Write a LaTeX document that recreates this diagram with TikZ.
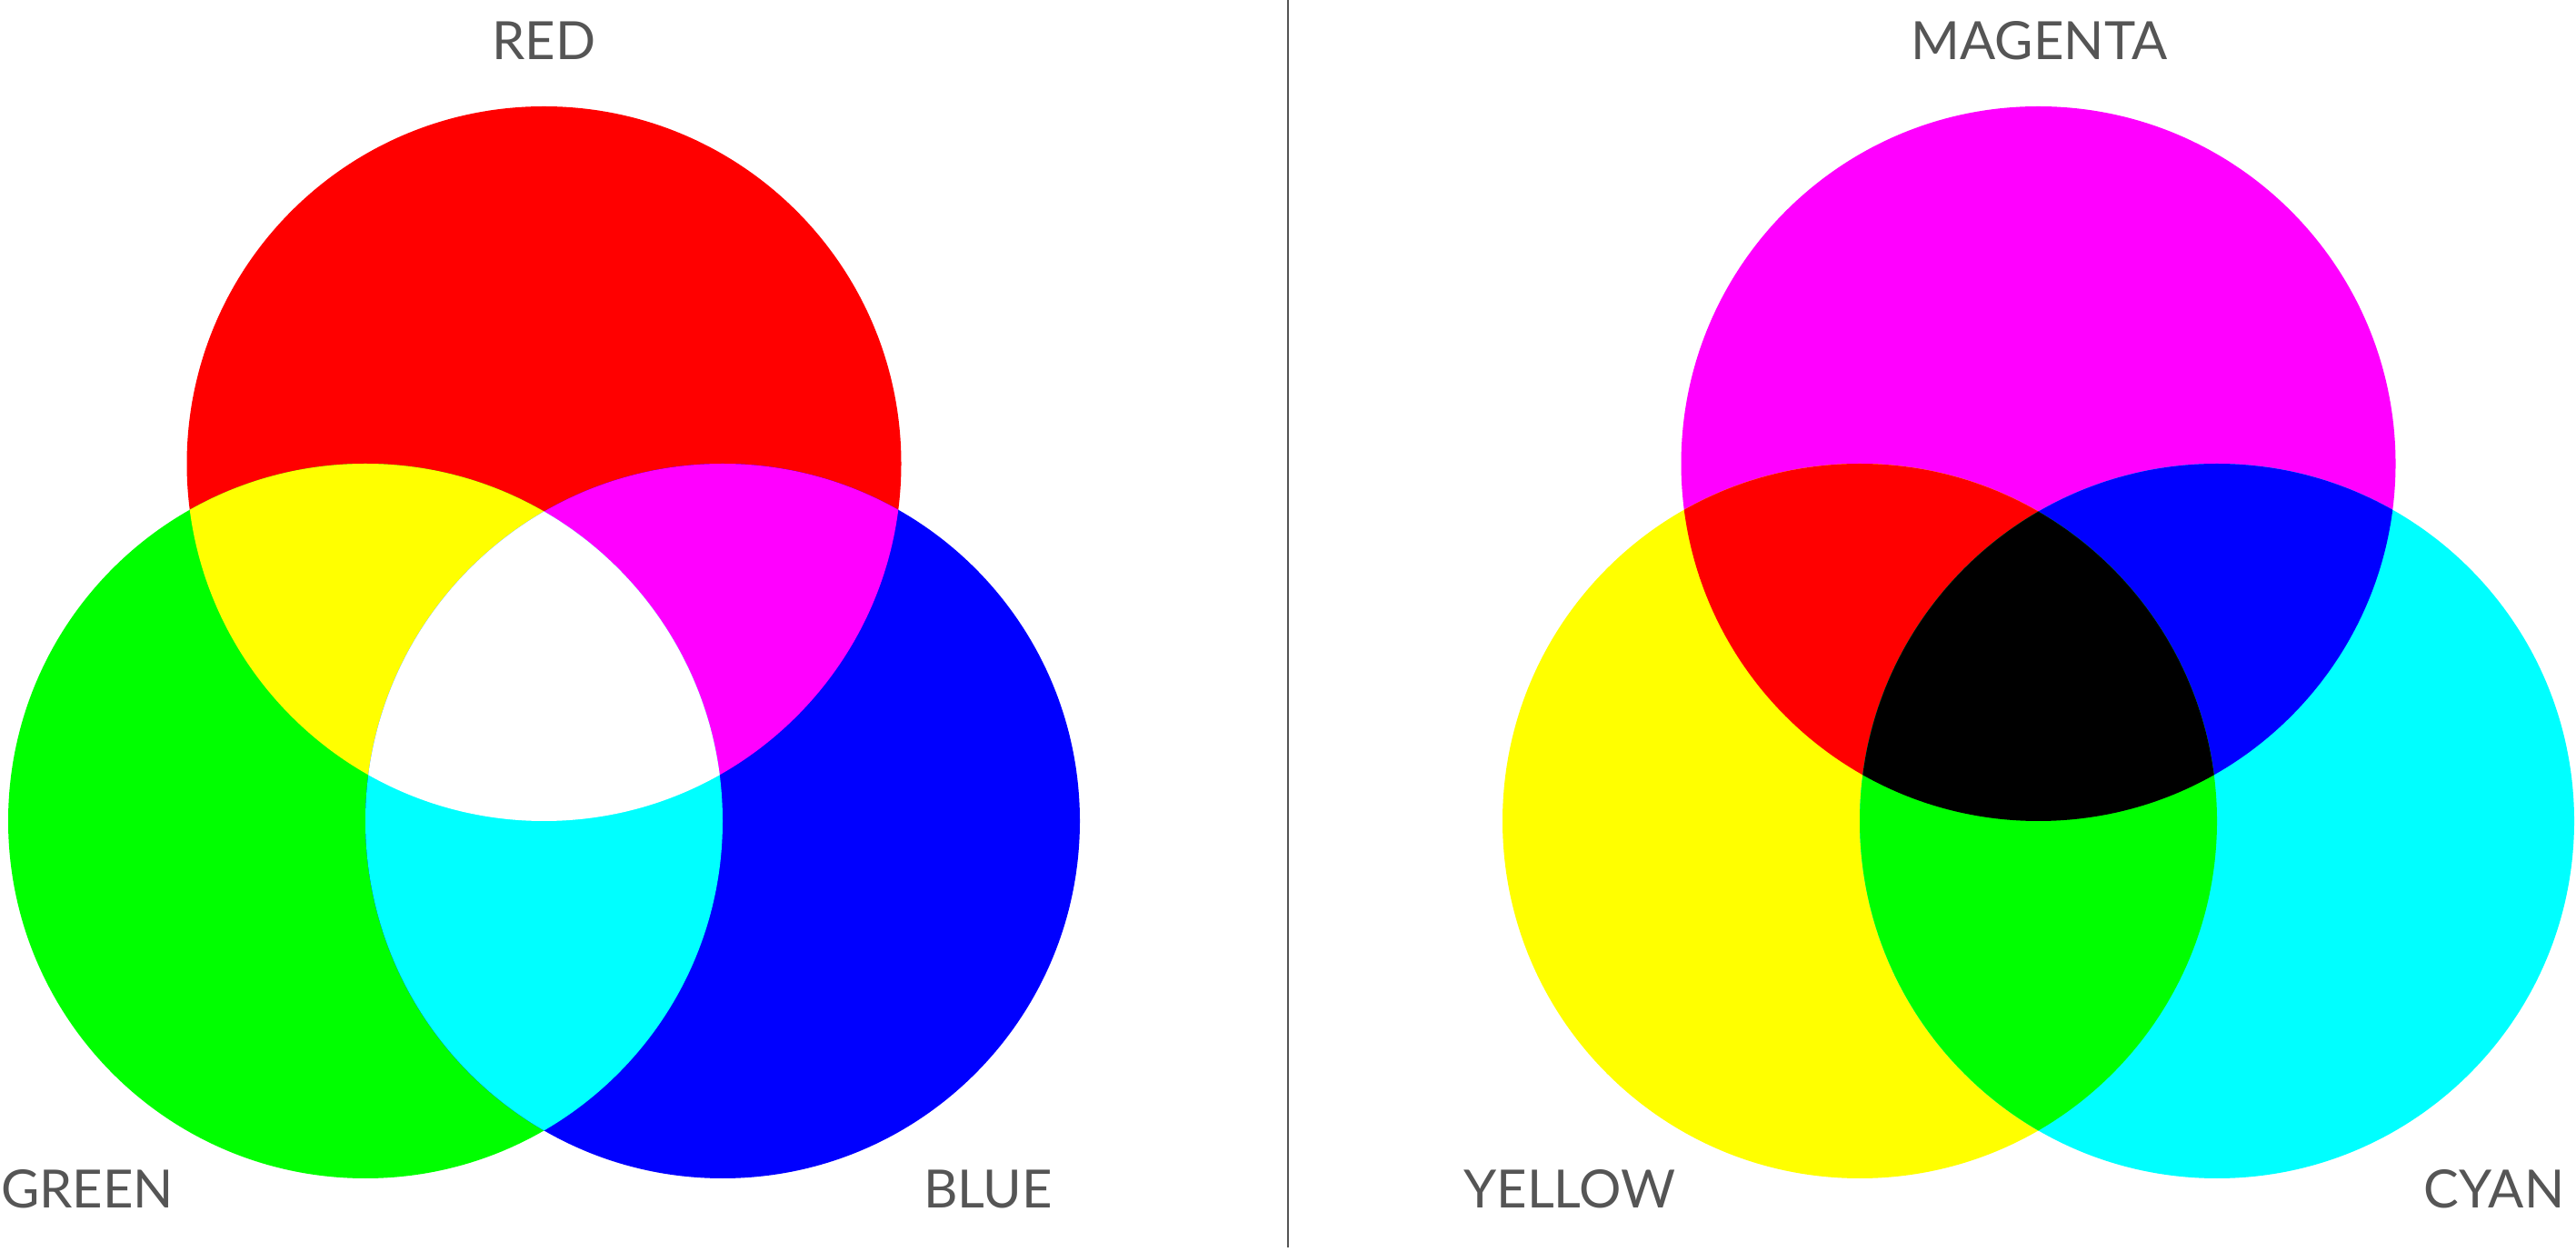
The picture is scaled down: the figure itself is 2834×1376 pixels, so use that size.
\documentclass[tikz,border=0pt]{standalone}
\usepackage{fontspec}
\setmainfont{Lato}
\definecolor{labgray}{RGB}{85,85,85}
\definecolor{cR}{RGB}{255,0,0}
\definecolor{cG}{RGB}{0,255,0}
\definecolor{cB}{RGB}{0,0,255}
\definecolor{cY}{RGB}{255,255,0}
\definecolor{cM}{RGB}{255,0,255}
\definecolor{cC}{RGB}{0,255,255}
\definecolor{cW}{RGB}{255,255,255}
\definecolor{cK}{RGB}{0,0,0}
\begin{document}
\begin{tikzpicture}[x=1pt,y=1pt,
  lab/.style={text=labgray, font=\fontsize{58}{70}\selectfont, inner sep=0pt, anchor=base},
  divider/.style={draw=labgray, line width=2.3pt}]
\useasboundingbox (0,0) rectangle (2834,1376);
\def\R{393}
% left: additive
\coordinate (r) at (598.5,866);
\coordinate (g) at (402,473);
\coordinate (b) at (795,473);
\fill[cR] (r) circle (\R);
\fill[cG] (g) circle (\R);
\fill[cB] (b) circle (\R);
\begin{scope}\clip (r) circle (\R); \fill[cY] (g) circle (\R); \end{scope}
\begin{scope}\clip (r) circle (\R); \fill[cM] (b) circle (\R); \end{scope}
\begin{scope}\clip (g) circle (\R); \fill[cC] (b) circle (\R); \end{scope}
\begin{scope}\clip (r) circle (\R); \clip (g) circle (\R); \fill[cW] (b) circle (\R); \end{scope}
% right: subtractive
\coordinate (m) at (2242.5,866);
\coordinate (y) at (2046,473);
\coordinate (c) at (2439,473);
\fill[cM] (m) circle (\R);
\fill[cY] (y) circle (\R);
\fill[cC] (c) circle (\R);
\begin{scope}\clip (m) circle (\R); \fill[cR] (y) circle (\R); \end{scope}
\begin{scope}\clip (m) circle (\R); \fill[cB] (c) circle (\R); \end{scope}
\begin{scope}\clip (y) circle (\R); \fill[cG] (c) circle (\R); \end{scope}
\begin{scope}\clip (m) circle (\R); \clip (y) circle (\R); \fill[cK] (c) circle (\R); \end{scope}
% divider
\coordinate (dtop) at (1416.7,1376);
\coordinate (dbot) at (1416.7,4);
\draw[divider] (dtop) -- (dbot);
% labels
\node[lab] (lred) at (598.5,1310) {RED};
\node[lab] (lgreen) at (96,48) {GREEN};
\node[lab] (lblue) at (1087,48) {BLUE};
\node[lab] (lmagenta) at (2243.5,1310) {MAGENTA};
\node[lab] (lyellow) at (1727,48) {YELLOW};
\node[lab] (lcyan) at (2744,48) {CYAN};
\end{tikzpicture}
\end{document}
